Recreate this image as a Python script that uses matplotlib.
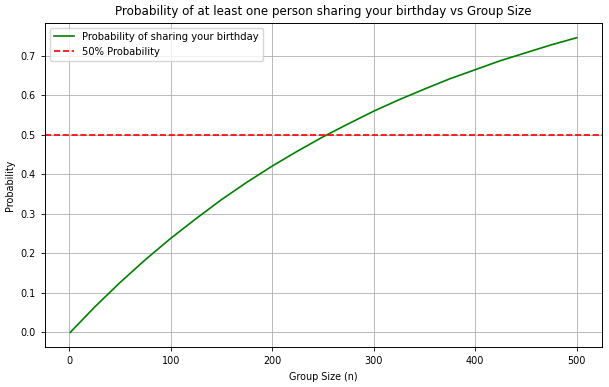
import numpy as np
import matplotlib
matplotlib.use("Agg")
import matplotlib.pyplot as plt

# Group size values
group_size = [1, 25, 50, 75, 100, 125, 150, 175, 200, 225, 250, 275,
              300, 325, 350, 375, 400, 425, 450, 475, 500]
# Probability
probability = [0.0, 0.064, 0.126, 0.184, 0.238, 0.288, 0.336, 0.380, 0.421,
               0.459, 0.495, 0.528, 0.560, 0.589, 0.616, 0.642, 0.665,
               0.688, 0.708, 0.728, 0.746]
threshold = 0.5

fig = plt.figure(figsize=(6.09, 3.87), dpi=100)
ax = fig.add_axes([45 / 609, 1 - 347 / 387, (602 - 45) / 609, (347 - 23) / 387])

ax.plot(group_size, probability, color="green", linewidth=1.2,
        label="Probability of sharing your birthday")
ax.axhline(threshold, color="red", linestyle="--", linewidth=1.2,
           label="50% Probability")

ax.set_title("Probability of at least one person sharing your birthday vs Group Size",
             fontsize=8.6)
ax.set_xlabel("Group Size (n)", fontsize=6.9)
ax.set_ylabel("Probability", fontsize=6.9)
ax.tick_params(labelsize=6.9, width=0.6, length=3)
ax.set_yticks(np.arange(0, 0.71, 0.1))
for sp in ax.spines.values():
    sp.set_linewidth(0.7)
ax.grid(True, linewidth=0.6, color="#b0b0b0")
ax.legend(loc="upper left", fontsize=7.2, framealpha=0.8, borderpad=0.4)

fig.savefig("out.png", dpi=100)
